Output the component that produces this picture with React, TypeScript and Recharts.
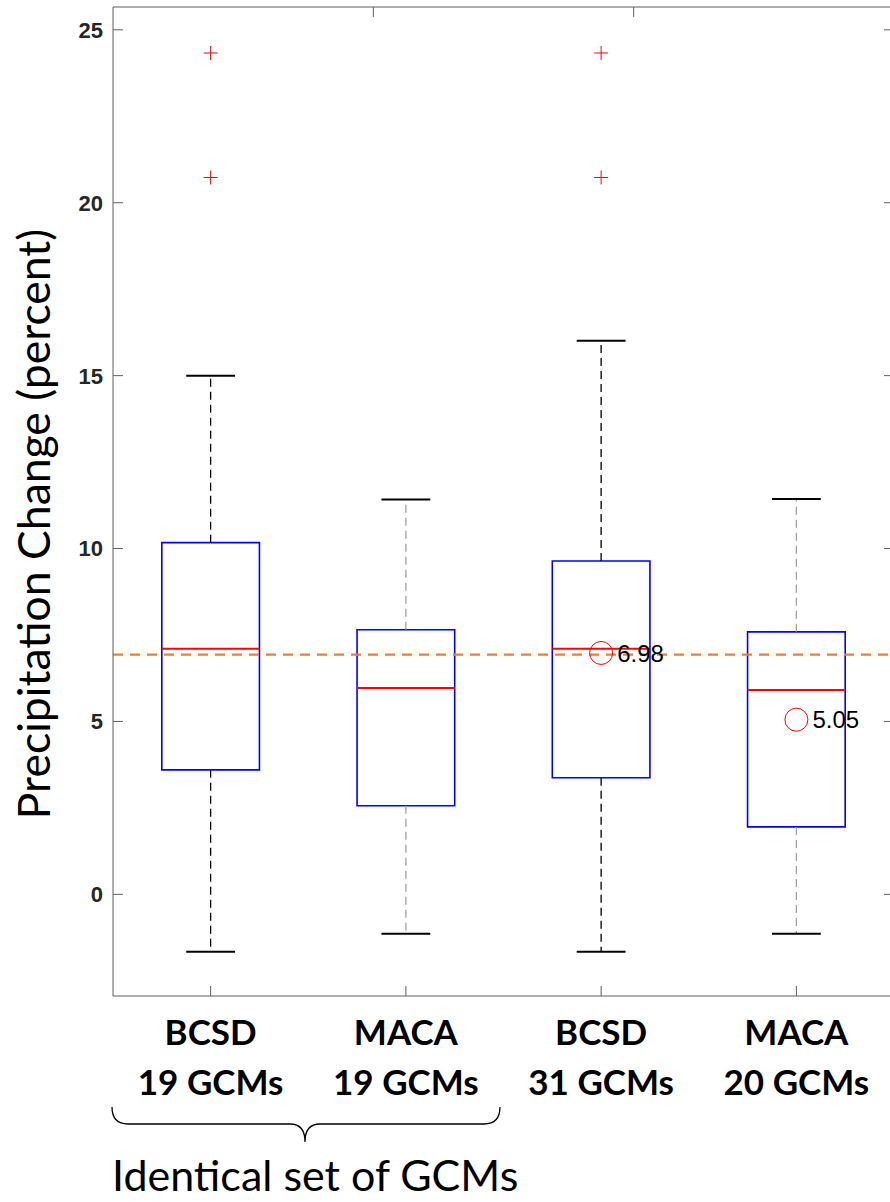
import React from "react";
import { ComposedChart, XAxis, YAxis, ReferenceArea, ReferenceLine, Scatter } from "recharts";

// ---- data ----
const positions = [1, 2, 3, 4];
const groupNames = ["BCSD", "MACA", "BCSD", "MACA"];
const groupCounts = ["19 GCMs", "19 GCMs", "31 GCMs", "20 GCMs"];
const whiskerHigh = [15.0, 11.42, 16.01, 11.43];
const upperQuartile = [10.17, 7.65, 9.64, 7.59];
const medians = [7.1, 5.97, 7.1, 5.91];
const lowerQuartile = [3.6, 2.56, 3.37, 1.95];
const whiskerLow = [-1.66, -1.14, -1.66, -1.14];
const outlierX = [1, 1, 3, 3];
const outlierY = [24.33, 20.73, 24.33, 20.73];
const meanX = [3, 4];
const meanY = [6.98, 5.05];
const meanLabels = ["6.98", "5.05"];
const referenceValue = 6.93;
const yTicks = [0, 5, 10, 15, 20, 25];
const yDomain = [-2.94, 25.66];
const xDomain = [0.5, 4.5];

// ---- styles ----
const whiskerColors = ["#000000", "#a0a0a0", "#000000", "#a0a0a0"];
const axisColor = "#5f5f5f";

const outlierData = outlierX.map((x, i) => ({ x, y: outlierY[i] }));
const meanData = meanX.map((x, i) => ({ x, y: meanY[i], label: meanLabels[i] }));

const LeftTick = (props: any) => {
  const { x, y, payload } = props;
  const ax = x + 10;
  return (
    <g>
      <line x1={ax} x2={ax + 10} y1={y} y2={y} stroke={axisColor} strokeWidth={1} />
      <text
        x={x}
        y={y}
        dy="0.36em"
        textAnchor="end"
        fontFamily="'Liberation Sans', Arial, sans-serif"
        fontWeight="bold"
        fontSize={22}
        fill="#262626"
      >
        {payload.value}
      </text>
    </g>
  );
};

const RightTick = (props: any) => {
  const { x, y } = props;
  return <line x1={x - 10} x2={x} y1={y} y2={y} stroke={axisColor} strokeWidth={1} />;
};

const TopTick = (props: any) => {
  const { x, y } = props;
  return <line x1={x} x2={x} y1={y} y2={y + 10} stroke={axisColor} strokeWidth={1} />;
};

const BottomTick = (props: any) => {
  const { x, y, payload } = props;
  const i = positions.indexOf(payload.value);
  return (
    <g>
      <line x1={x} x2={x} y1={y} y2={y - 10} stroke={axisColor} strokeWidth={1} />
      <text
        x={x}
        y={y + 49}
        textAnchor="middle"
        fontFamily="Lato, 'Open Sans', sans-serif"
        fontWeight="bold"
        fontSize={35}
        fill="#000"
      >
        {groupNames[i]}
      </text>
      <text
        x={x}
        y={y + 99}
        textAnchor="middle"
        fontFamily="Lato, 'Open Sans', sans-serif"
        fontWeight="bold"
        fontSize={35}
        fill="#000"
      >
        {groupCounts[i]}
      </text>
    </g>
  );
};

const PlusShape = (props: any) => {
  const { cx, cy } = props;
  return (
    <path
      d={`M${cx - 7},${cy} L${cx + 7},${cy} M${cx},${cy - 7} L${cx},${cy + 7}`}
      stroke="#ff0000"
      strokeWidth={1}
      fill="none"
    />
  );
};

const MeanShape = (props: any) => {
  const { cx, cy, payload } = props;
  return (
    <g>
      <circle cx={cx} cy={cy} r={11.5} stroke="#ff0000" strokeWidth={1} fill="none" />
      <text
        x={cx + 16}
        y={cy}
        dy="0.36em"
        fontFamily="'Liberation Sans', Arial, sans-serif"
        fontSize={24}
        fill="#000"
      >
        {payload.label}
      </text>
    </g>
  );
};

export default function App() {
  return (
    <div
      style={{
        position: "fixed",
        left: 0,
        top: 0,
        width: 890,
        height: 1202,
        overflow: "hidden",
        background: "#fff",
      }}
    >
      <ComposedChart
        width={900}
        height={1202}
        margin={{ top: 6, right: 0, bottom: 0, left: 0 }}
        data={outlierData}
      >
        <XAxis
          xAxisId={0}
          dataKey="x"
          type="number"
          domain={xDomain}
          ticks={positions}
          orientation="bottom"
          height={206}
          tickSize={0}
          tickMargin={0}
          tickLine={false}
          axisLine={{ stroke: axisColor, strokeWidth: 1 }}
          tick={<BottomTick />}
          allowDataOverflow
          interval={0}
        />
        <XAxis
          xAxisId="top"
          type="number"
          domain={xDomain}
          ticks={positions}
          orientation="top"
          height={1}
          tickSize={0}
          tickMargin={0}
          tickLine={false}
          axisLine={{ stroke: axisColor, strokeWidth: 1 }}
          tick={<TopTick />}
          allowDataOverflow
          interval={0}
        />
        <YAxis
          yAxisId={0}
          type="number"
          domain={yDomain}
          ticks={yTicks}
          width={113}
          tickSize={0}
          tickMargin={10}
          tickLine={false}
          axisLine={{ stroke: axisColor, strokeWidth: 1 }}
          tick={<LeftTick />}
          allowDataOverflow
          interval={0}
        />
        <YAxis
          yAxisId="right"
          orientation="right"
          type="number"
          domain={yDomain}
          ticks={yTicks}
          width={6}
          tickSize={0}
          tickMargin={0}
          tickLine={false}
          axisLine={{ stroke: axisColor, strokeWidth: 1 }}
          tick={<RightTick />}
          allowDataOverflow
          interval={0}
        />

        {positions.map((p, i) => (
          <ReferenceLine
            key={`wu${i}`}
            segment={[
              { x: p, y: upperQuartile[i] },
              { x: p, y: whiskerHigh[i] },
            ]}
            stroke={whiskerColors[i]}
            strokeWidth={1.3}
            strokeDasharray="8 5"
          />
        ))}
        {positions.map((p, i) => (
          <ReferenceLine
            key={`wl${i}`}
            segment={[
              { x: p, y: lowerQuartile[i] },
              { x: p, y: whiskerLow[i] },
            ]}
            stroke={whiskerColors[i]}
            strokeWidth={1.3}
            strokeDasharray="8 5"
          />
        ))}
        {positions.map((p, i) => (
          <ReferenceLine
            key={`cu${i}`}
            segment={[
              { x: p - 0.125, y: whiskerHigh[i] },
              { x: p + 0.125, y: whiskerHigh[i] },
            ]}
            stroke="#000"
            strokeWidth={2}
          />
        ))}
        {positions.map((p, i) => (
          <ReferenceLine
            key={`cl${i}`}
            segment={[
              { x: p - 0.125, y: whiskerLow[i] },
              { x: p + 0.125, y: whiskerLow[i] },
            ]}
            stroke="#000"
            strokeWidth={2}
          />
        ))}
        {positions.map((p, i) => (
          <ReferenceArea
            key={`b${i}`}
            x1={p - 0.25}
            x2={p + 0.25}
            y1={lowerQuartile[i]}
            y2={upperQuartile[i]}
            fill="none"
            fillOpacity={0}
            stroke="#0000ff"
            strokeWidth={1.6}
          />
        ))}
        {positions.map((p, i) => (
          <ReferenceLine
            key={`m${i}`}
            segment={[
              { x: p - 0.25, y: medians[i] },
              { x: p + 0.25, y: medians[i] },
            ]}
            stroke="#ff0000"
            strokeWidth={2}
          />
        ))}
        <ReferenceLine
          y={referenceValue}
          stroke="#ED7D31"
          strokeWidth={2.2}
          strokeDasharray="10 7"
        />
        <Scatter data={outlierData} dataKey="y" shape={<PlusShape />} isAnimationActive={false} />
        <Scatter data={meanData} dataKey="y" shape={<MeanShape />} isAnimationActive={false} />
      </ComposedChart>

      <svg
        width={890}
        height={1202}
        style={{ position: "absolute", left: 0, top: 0, pointerEvents: "none" }}
      >
        <text
          transform="translate(50,524) rotate(-90)"
          textAnchor="middle"
          fontFamily="Lato, 'Open Sans', sans-serif"
          fontSize={44.5}
          fill="#000"
        >
          Precipitation Change (percent)
        </text>
        <path
          d="M112,1107 Q112,1124 128,1124 L290,1124 Q305,1124 305,1142 Q305,1124 320,1124 L484,1124 Q500,1124 500,1107"
          stroke="#000"
          strokeWidth={1.3}
          fill="none"
        />
        <text x={112} y={1191} fontFamily="Lato, 'Open Sans', sans-serif" fontSize={43} fill="#000">
          Identical set of GCMs
        </text>
      </svg>
    </div>
  );
}
